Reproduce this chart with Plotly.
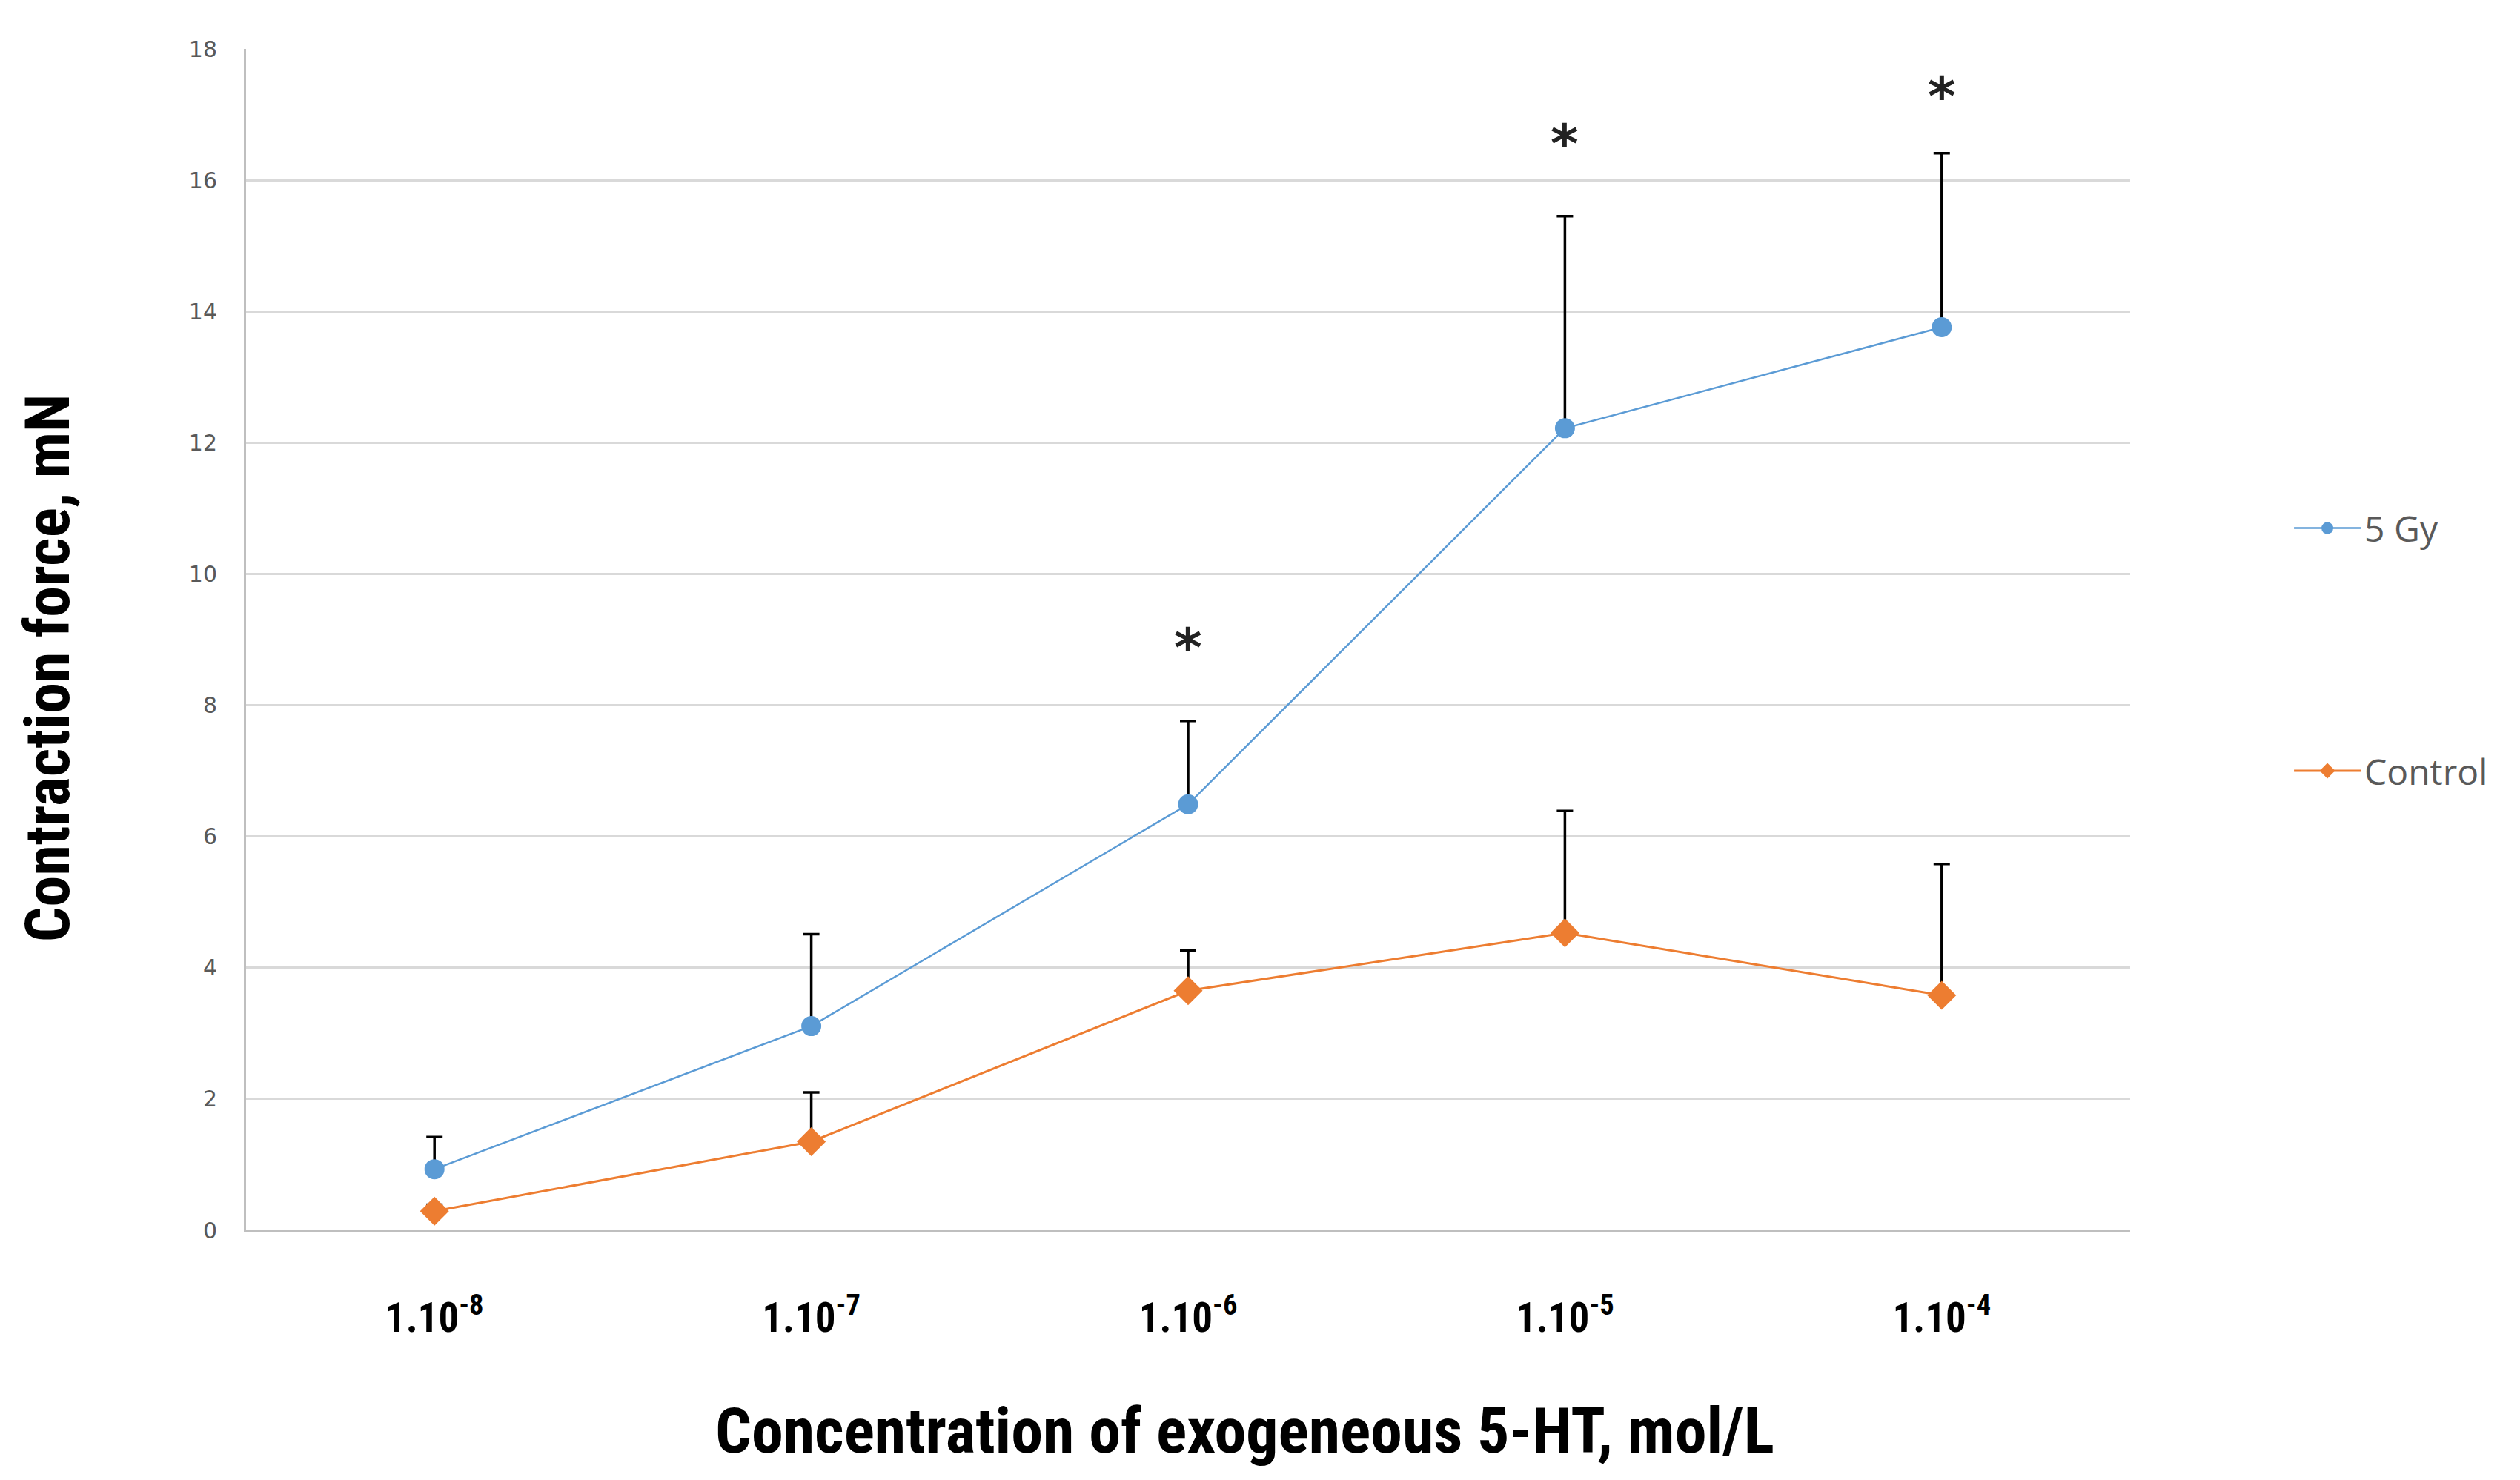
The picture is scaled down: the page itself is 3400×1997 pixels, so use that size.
import plotly.graph_objects as go

categories = ["c-8", "c-7", "c-6", "c-5", "c-4"]
tick_labels = ["<b>1.10<sup>-8</sup></b>", "<b>1.10<sup>-7</sup></b>", "<b>1.10<sup>-6</sup></b>",
               "<b>1.10<sup>-5</sup></b>", "<b>1.10<sup>-4</sup></b>"]

gy5_mean = [0.93, 3.11, 6.49, 12.22, 13.76]
gy5_err = [0.49, 1.40, 1.27, 3.23, 2.65]
ctrl_mean = [0.29, 1.35, 3.65, 4.53, 3.58]
ctrl_err = [0.10, 0.75, 0.61, 1.86, 2.00]

star_cats = ["c-6", "c-5", "c-4"]
star_y = [8.88, 16.55, 17.28]

BLUE = "#5B9BD5"
ORANGE = "#ED7D31"
COND = "Liberation Sans Narrow, Roboto Condensed, Open Sans, sans-serif"

fig = go.Figure()
fig.add_trace(go.Scatter(
    x=categories, y=gy5_mean, name="5 Gy", mode="lines+markers",
    line=dict(color=BLUE, width=2.5),
    marker=dict(symbol="circle", size=27, color=BLUE),
    error_y=dict(type="data", symmetric=False, array=gy5_err, arrayminus=[0]*5,
                 color="black", thickness=3.5, width=11),
    legendgroup="a",
))
fig.add_trace(go.Scatter(
    x=categories, y=ctrl_mean, name="Control", mode="lines+markers",
    line=dict(color=ORANGE, width=3),
    marker=dict(symbol="diamond", size=30, color=ORANGE),
    error_y=dict(type="data", symmetric=False, array=ctrl_err, arrayminus=[0]*5,
                 color="black", thickness=3.5, width=11),
    legendgroup="b",
))

for c, y in zip(star_cats, star_y):
    fig.add_annotation(x=c, y=y, text="<b>*</b>", showarrow=False,
                       font=dict(size=72, color="#222222", family="DejaVu Sans"),
                       yanchor="middle")

# axis titles placed as annotations (offset from the plot centre as in the reference)
fig.add_annotation(xref="paper", yref="paper", x=0, y=0.476, xanchor="center", yanchor="middle",
                   xshift=-268, textangle=-90, showarrow=False,
                   text="<b>Contraction force, mN</b>",
                   font=dict(size=84, color="black", family=COND))
fig.add_annotation(xref="paper", yref="paper", x=0.53, y=0, xanchor="center", yanchor="middle",
                   yshift=-270, showarrow=False,
                   text="<b>Concentration of exogeneous 5-HT, mol/L</b>",
                   font=dict(size=86, color="black", family=COND))

fig.update_layout(
    width=3400, height=1997,
    paper_bgcolor="white", plot_bgcolor="white",
    margin=dict(l=324, r=534, t=58, b=345),
    font=dict(family="Open Sans, sans-serif", color="#595959"),
    legend=dict(x=1.085, xanchor="left", y=0.618, yanchor="top",
                font=dict(size=48, color="#595959", family="Open Sans"),
                tracegroupgap=262, bgcolor="rgba(0,0,0,0)",
                itemwidth=90),
    xaxis=dict(
        type="category", categoryorder="array", categoryarray=categories,
        range=[-0.5, 4.5],
        tickmode="array", tickvals=categories, ticktext=tick_labels,
        tickfont=dict(size=55, color="black", family=COND),
        showgrid=False, showline=True, linecolor="#BFBFBF", linewidth=3,
        ticks="", ticklabelstandoff=68,
        zeroline=False,
    ),
    yaxis=dict(
        range=[0, 18], tickmode="linear", tick0=0, dtick=2,
        tickfont=dict(size=30, color="#595959", family="DejaVu Sans"),
        showgrid=True, gridcolor="#D9D9D9", gridwidth=2.5,
        showline=True, linecolor="#BFBFBF", linewidth=3,
        ticks="", ticklabelstandoff=30,
        zeroline=False,
    ),
)

fig.write_html("out.html")
